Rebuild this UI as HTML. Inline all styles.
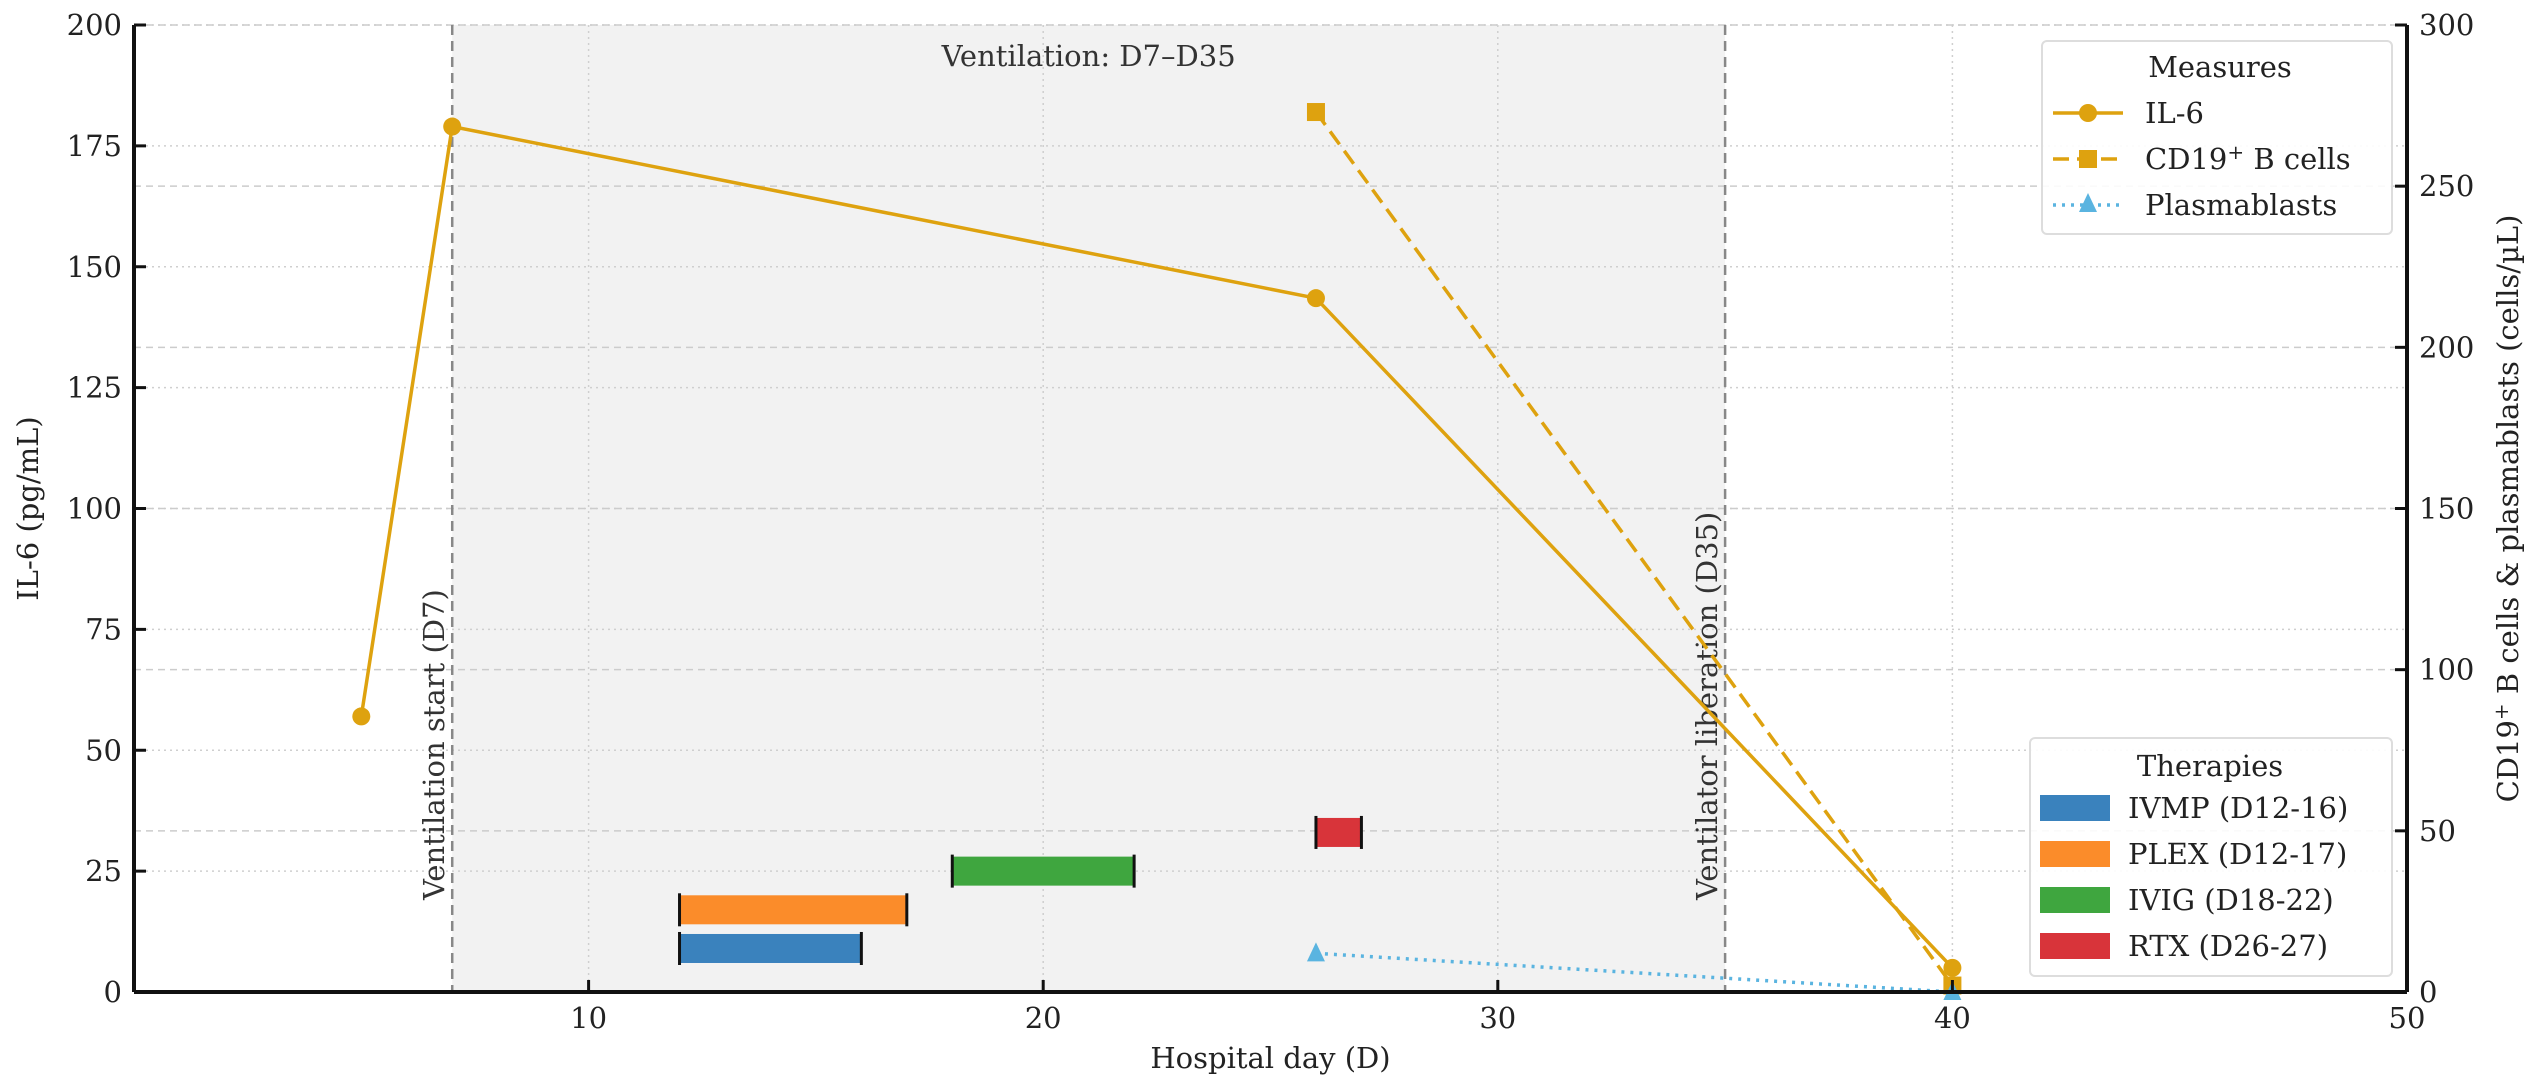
<!DOCTYPE html>
<html><head><meta charset="utf-8"><style>
html,body{margin:0;padding:0;background:#fff;}
svg{display:block;font-family:"DejaVu Serif","Liberation Serif",serif;}
</style></head><body>
<svg id="chart" width="2536" height="1081" viewBox="0 0 2536 1081" xmlns="http://www.w3.org/2000/svg"></svg>
<script>
const days=[5,7,26,40];
const il6=[57,179,143.5,5];
const cdDays=[26,40];
const cd19=[273,2];
const pbDays=[26,40];
const plasma=[12,0];
const therapyNames=["IVMP (D12-16)","PLEX (D12-17)","IVIG (D18-22)","RTX (D26-27)"];
const therapyStart=[12,12,18,26];
const therapyEnd=[16,17,22,27];
const therapyLevel=[9,17,25,33];
const therapyColors=["#3a82bd","#fb8c2a","#3fa63f","#d8343a"];
const xTicks=[10,20,30,40,50];
const yLeftTicks=[0,25,50,75,100,125,150,175,200];
const yRightTicks=[0,50,100,150,200,250,300];
const ventStart=7, ventEnd=35;

const L=134,R=2407,T=25,B=992;
const X=d=>L+(d-0)/50*(R-L);
const YL=v=>B-v/200*(B-T);
const YR=v=>B-v/300*(B-T);
const svg=document.getElementById('chart');
const NS="http://www.w3.org/2000/svg";
function el(tag,attrs,parent){const e=document.createElementNS(NS,tag);for(const k in attrs)e.setAttribute(k,attrs[k]);(parent||svg).appendChild(e);return e;}
function txt(s,attrs,parent){const e=el('text',attrs,parent);e.textContent=s;return e;}

let sh=el('rect',{x:X(ventStart),y:T,width:X(ventEnd)-X(ventStart),height:B-T,fill:'#f2f2f2'});



xTicks.forEach(t=>{if(t<50){let g=el('line',{x1:X(t),x2:X(t),y1:T,y2:B,stroke:'#cfcfcf','stroke-width':1.5,'stroke-dasharray':'2,4'});

}});
yLeftTicks.forEach(t=>{let g=el('line',{x1:L,x2:R,y1:YL(t),y2:YL(t),stroke:'#cfcfcf','stroke-width':1.5,'stroke-dasharray':'2,4'});

});
yRightTicks.forEach(t=>{let g=el('line',{x1:L,x2:R,y1:YR(t),y2:YR(t),stroke:'#cccccc','stroke-width':1.5,'stroke-dasharray':'7,5'});

});

[[ventStart,"Ventilation start (D7)"],[ventEnd,"Ventilator liberation (D35)"]].forEach(([d,s])=>{
 let ln=el('line',{x1:X(d),x2:X(d),y1:T,y2:B,stroke:'#888','stroke-width':2.5,'stroke-dasharray':'10,6'});
 
 
 let t=txt(s,{x:0,y:0,'font-size':29,fill:'#333',transform:`translate(${X(d)-8},${900}) rotate(-90)`});
 
 
});
let vt=txt("Ventilation: D7–D35",{x:(X(ventStart)+X(ventEnd))/2,y:66,'font-size':29,'text-anchor':'middle',fill:'#333'});



therapyNames.forEach((n,i)=>{
 const y0=YL(therapyLevel[i]+3),y1=YL(therapyLevel[i]-3);
 let r=el('rect',{x:X(therapyStart[i]),y:y0,width:X(therapyEnd[i])-X(therapyStart[i]),height:y1-y0,fill:therapyColors[i]});
 
 
 [therapyStart[i],therapyEnd[i]].forEach(d=>{let c=el('line',{x1:X(d),x2:X(d),y1:y0-2,y2:y1+2,stroke:'#111','stroke-width':3});
 
 });
});

const gold='#dea20f';
function poly(xs,ys,fy,attrs,name){const p=el('polyline',Object.assign({points:xs.map((d,i)=>X(d)+','+fy(ys[i])).join(' '),fill:'none'},attrs));

return p;}
poly(days,il6,YL,{stroke:gold,'stroke-width':3.5},'il6-line');
days.forEach((d,i)=>{let c=el('circle',{cx:X(d),cy:YL(il6[i]),r:9,fill:gold});

});
poly(cdDays,cd19,YR,{stroke:gold,'stroke-width':3.5,'stroke-dasharray':'16,8'},'cd19-line');
cdDays.forEach((d,i)=>{let s=el('rect',{x:X(d)-9,y:YR(cd19[i])-9,width:18,height:18,fill:gold});

});
poly(pbDays,plasma,YR,{stroke:'#5ab4e0','stroke-width':3.5,'stroke-dasharray':'3,6'},'plasmablast-line');
pbDays.forEach((d,i)=>{const x=X(d),y=YR(plasma[i]);let t=el('polygon',{points:`${x},${y-11} ${x-9},${y+8} ${x+9},${y+8}`,fill:'#5ab4e0'});

});

[[L,T,L,B],[R,T,R,B],[L,B,R,B]].forEach(a=>{let s=el('line',{x1:a[0],y1:a[1],x2:a[2],y2:a[3],stroke:'#111','stroke-width':4});

});

xTicks.forEach(t=>{el('line',{x1:X(t),x2:X(t),y1:B,y2:B-12,stroke:'#111','stroke-width':3});
let l=txt(t,{x:X(t),y:1028,'font-size':29,'text-anchor':'middle',fill:'#222'});

});
yLeftTicks.forEach(t=>{el('line',{x1:L,x2:L+12,y1:YL(t),y2:YL(t),stroke:'#111','stroke-width':3});
let l=txt(t,{x:L-12,y:YL(t)+10,'font-size':29,'text-anchor':'end',fill:'#222'});

});
yRightTicks.forEach(t=>{el('line',{x1:R,x2:R-12,y1:YR(t),y2:YR(t),stroke:'#111','stroke-width':3});
let l=txt(t,{x:R+12,y:YR(t)+10,'font-size':29,'text-anchor':'start',fill:'#222'});

});

let xl=txt("Hospital day (D)",{x:(L+R)/2,y:1068,'font-size':29,'text-anchor':'middle',fill:'#222'});


let yl=txt("IL-6 (pg/mL)",{x:0,y:0,'font-size':29,'text-anchor':'middle',fill:'#222',transform:`translate(38,${(T+B)/2}) rotate(-90)`});


let yr=el('text',{x:0,y:0,'font-size':29,'text-anchor':'middle',fill:'#222',transform:`translate(2518,${(T+B)/2}) rotate(-90)`});


yr.innerHTML='CD19<tspan dy="-10" font-size="20">+</tspan><tspan dy="10"> B cells &amp; plasmablasts (cells/µL)</tspan>';

let lg=el('g',{});


el('rect',{x:2042,y:41,width:350,height:193,rx:5,fill:'#fff','fill-opacity':0.9,stroke:'#ddd','stroke-width':2},lg);
txt("Measures",{x:2220,y:77,'font-size':29,'text-anchor':'middle',fill:'#222'},lg);
const mx1=2053,mx2=2123,mc=2088;
el('line',{x1:mx1,x2:mx2,y1:113,y2:113,stroke:gold,'stroke-width':3.5},lg);
el('circle',{cx:mc,cy:113,r:9,fill:gold},lg);
txt("IL-6",{x:2145,y:123,'font-size':29,fill:'#222'},lg);
el('line',{x1:mx1,x2:mx2,y1:159,y2:159,stroke:gold,'stroke-width':3.5,'stroke-dasharray':'16,8'},lg);
el('rect',{x:mc-9,y:150,width:18,height:18,fill:gold},lg);
let cdt=el('text',{x:2145,y:169,'font-size':29,fill:'#222'},lg);cdt.innerHTML='CD19<tspan dy="-10" font-size="20">+</tspan><tspan dy="10"> B cells</tspan>';
el('line',{x1:mx1,x2:mx2,y1:205,y2:205,stroke:'#5ab4e0','stroke-width':3.5,'stroke-dasharray':'3,6'},lg);
el('polygon',{points:`${mc},${193} ${mc-9},${212} ${mc+9},${212}`,fill:'#5ab4e0'},lg);
txt("Plasmablasts",{x:2145,y:215,'font-size':29,fill:'#222'},lg);

let tg=el('g',{});


el('rect',{x:2030,y:738,width:362,height:238,rx:5,fill:'#fff','fill-opacity':0.9,stroke:'#ddd','stroke-width':2},tg);
txt("Therapies",{x:2210,y:776,'font-size':29,'text-anchor':'middle',fill:'#222'},tg);
therapyNames.forEach((n,i)=>{const y=808+i*46;
 el('rect',{x:2040,y:y-13,width:70,height:26,fill:therapyColors[i]},tg);
 let t=txt(n,{x:2128,y:y+10,'font-size':29,fill:'#222'},tg);
 
 
});
</script>
</body></html>
